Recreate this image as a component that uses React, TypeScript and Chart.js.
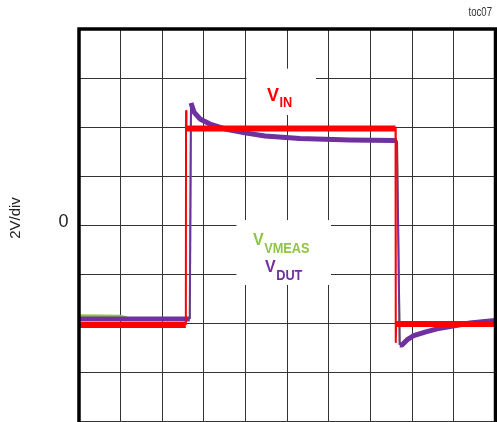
import React, { useEffect, useRef } from "react";
import { Chart, registerables } from "chart.js";

Chart.register(...registerables);

// Time axis in divisions (10 across), voltage in volts (2V/div, 0 at centre).
const vinTime = [0, 2.565, 2.57, 2.58, 5.0, 7.6, 7.605, 7.615, 10];
const vinVolts = [-4.08, -4.08, 4.65, 3.94, 3.94, 3.94, -4.78, -4.04, -4.04];

const dutTime = [0, 2.66, 2.689, 2.761, 2.905, 3.145, 3.505, 3.986, 4.466, 5.306, 6.507, 7.635, 7.7, 7.755, 7.875, 8.019, 8.307, 8.595, 8.98, 9.388, 9.748, 10];
const dutVolts = [-3.84, -3.84, 4.98, 4.61, 4.33, 4.12, 3.92, 3.76, 3.63, 3.53, 3.47, 3.45, -4.9, -4.9, -4.69, -4.53, -4.37, -4.24, -4.12, -4.0, -3.94, -3.9];

const measTime = [0, 1.0, 1.2, 2.66, 2.689, 2.761, 2.905, 3.145, 3.505, 3.986, 4.466, 5.306, 6.507, 7.635, 7.7, 7.755, 7.875, 8.019, 8.307, 8.595, 8.98, 9.388, 9.748, 10];
const measVolts = [-3.7, -3.72, -3.82, -3.82, 4.9, 4.58, 4.31, 4.1, 3.9, 3.74, 3.61, 3.51, 3.45, 3.43, -4.85, -4.85, -4.66, -4.5, -4.35, -4.22, -4.1, -3.98, -3.92, -3.88];

const xDivisions = 10;
const yMin = -8;
const yMax = 8;
const voltsPerDiv = 2;

const RED = "#ff0000";
const PURPLE = "#7030a0";
const GREEN = "#8dc63f";

const toPoints = (t: number[], v: number[]) => t.map((x, i) => ({ x, y: v[i] }));

// thick band for the flat parts of a trace, thin stroke for fast edges
const edgeWidth = (wide: number) => (ctx: any) =>
  Math.abs(ctx.p1.parsed.y - ctx.p0.parsed.y) > 0.5 ? 2 : wide;

function drawSubLabel(
  ctx: CanvasRenderingContext2D,
  x: number,
  y: number,
  main: string,
  mainSize: number,
  sub: string,
  subDrop: number,
  color: string
) {
  ctx.save();
  ctx.fillStyle = color;
  ctx.textBaseline = "alphabetic";
  ctx.textAlign = "left";
  ctx.font = `bold ${mainSize}px "Liberation Sans", Arial, sans-serif`;
  ctx.fillText(main, x, y);
  const w = ctx.measureText(main).width;
  ctx.translate(x + w + 0.5, y + subDrop);
  ctx.scale(0.85, 1);
  ctx.font = `bold 15px "Liberation Sans", Arial, sans-serif`;
  ctx.fillText(sub, 0, 0);
  ctx.restore();
}

const scopeDecor = {
  id: "scopeDecor",
  beforeDatasetsDraw(chart: any) {
    const { ctx, scales } = chart;
    const xs = scales.x;
    const ys = scales.y;
    const box = (x0: number, x1: number, y0: number, y1: number) => {
      const l = xs.getPixelForValue(x0);
      const r = xs.getPixelForValue(x1);
      const t = ys.getPixelForValue(y0);
      const b = ys.getPixelForValue(y1);
      ctx.fillRect(l, t, r - l, b - t);
    };
    ctx.save();
    ctx.fillStyle = "#ffffff";
    box(4.02, 5.69, 6.38, 4.49);
    box(3.78, 6.05, 0.2, -2.45);
    ctx.restore();
  },
  afterDatasetsDraw(chart: any) {
    const { ctx, chartArea, scales } = chart;
    const { left, top, right, bottom } = chartArea;
    ctx.save();
    // heavy frame
    ctx.strokeStyle = "#000000";
    ctx.lineWidth = 3.5;
    ctx.beginPath();
    ctx.moveTo(left, bottom + 4);
    ctx.lineTo(left, top);
    ctx.lineTo(right, top);
    ctx.lineTo(right, bottom + 4);
    ctx.stroke();

    // trace labels
    drawSubLabel(ctx, 267, 100.5, "V", 18, "IN", 6.5, RED);
    drawSubLabel(ctx, 253, 244.5, "V", 16, "VMEAS", 8, GREEN);
    drawSubLabel(ctx, 265, 272, "V", 16, "DUT", 7.5, PURPLE);

    // zero marker and scale text
    const y0 = scales.y.getPixelForValue(0);
    ctx.fillStyle = "#222222";
    ctx.font = `18px "Liberation Sans", Arial, sans-serif`;
    ctx.textAlign = "center";
    ctx.textBaseline = "alphabetic";
    ctx.fillText("0", 63.5, y0 + 1.5);

    ctx.font = `15px "Liberation Sans", Arial, sans-serif`;
    ctx.save();
    ctx.translate(16, 218);
    ctx.rotate(-Math.PI / 2);
    ctx.textAlign = "center";
    ctx.textBaseline = "middle";
    ctx.fillText(`${voltsPerDiv}V/div`, 0, 0);
    ctx.restore();

    ctx.save();
    ctx.translate(492, 16);
    ctx.scale(0.8, 1);
    ctx.font = `12px "Liberation Sans", Arial, sans-serif`;
    ctx.textAlign = "right";
    ctx.fillStyle = "#333333";
    ctx.fillText("toc07", 0, 0);
    ctx.restore();
    ctx.restore();
  },
};

export default function App() {
  const canvasRef = useRef<HTMLCanvasElement | null>(null);

  useEffect(() => {
    const canvas = canvasRef.current;
    if (!canvas) return;
    // dataset 0 is drawn on top, so the input trace comes first
    const chart = new Chart(canvas, {
      type: "line",
      data: {
        datasets: [
          {
            label: "VIN",
            data: toPoints(vinTime, vinVolts),
            borderColor: RED,
            borderWidth: 6,
            pointRadius: 0,
            tension: 0,
            borderJoinStyle: "round",
            segment: { borderWidth: edgeWidth(6) },
          },
          {
            label: "VDUT",
            data: toPoints(dutTime, dutVolts),
            borderColor: PURPLE,
            borderWidth: 5,
            pointRadius: 0,
            tension: 0,
            borderJoinStyle: "round",
            segment: { borderWidth: edgeWidth(5) },
          },
          {
            label: "VVMEAS",
            data: toPoints(measTime, measVolts),
            borderColor: GREEN,
            borderWidth: 3,
            pointRadius: 0,
            tension: 0,
            borderJoinStyle: "round",
            segment: { borderWidth: edgeWidth(3) },
          },
        ],
      },
      options: {
        animation: false,
        responsive: false,
        parsing: false,
        layout: { padding: { left: 79, top: 29, right: 1.5, bottom: 1 } },
        plugins: {
          legend: { display: false },
          tooltip: { enabled: false },
        },
        scales: {
          x: {
            type: "linear",
            min: 0,
            max: xDivisions,
            ticks: { display: false, stepSize: 1 },
            grid: { color: "#333333", lineWidth: 1, drawTicks: false },
            border: { display: false },
          },
          y: {
            type: "linear",
            min: yMin,
            max: yMax,
            ticks: { display: false, stepSize: voltsPerDiv },
            grid: { color: "#333333", lineWidth: 1, drawTicks: false },
            border: { display: false },
          },
        },
      },
      plugins: [scopeDecor],
    });
    return () => chart.destroy();
  }, []);

  return (
    <div style={{ position: "fixed", left: 0, top: 0, width: 497, height: 422, background: "#ffffff" }}>
      <canvas ref={canvasRef} width={497} height={422} />
    </div>
  );
}
